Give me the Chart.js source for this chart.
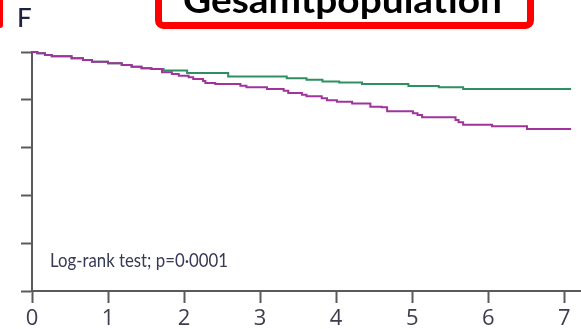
<!DOCTYPE html>
<html>
<head>
<meta charset="utf-8">
<script src="https://cdn.jsdelivr.net/npm/chart.js@4.4.1/dist/chart.umd.min.js"></script>
<style>
  html, body { margin: 0; padding: 0; background: #fff; }
</style>
</head>
<body>
<canvas id="myChart" width="581" height="329"></canvas>
<script>
// Axis ticks (years on x, % on y - y labels are cropped off in the source)
const yearTicks = [0, 1, 2, 3, 4, 5, 6, 7];
const survTicks = [0, 20, 40, 60, 80, 100];

// Green curve (time in years, survival %)
const greenTimes = [0, 0.07, 0.17, 0.26, 0.52, 0.67, 0.79, 1.0, 1.18, 1.31, 1.44, 1.57, 1.73, 2.04, 2.58, 3.35, 3.61, 3.82, 4.04, 4.34, 4.95, 5.35, 5.67, 7.09];
const greenSurv = [100, 99.5, 98.7, 98.2, 97.4, 96.7, 95.9, 95.3, 94.6, 93.8, 93.2, 92.9, 92.3, 91.2, 89.8, 89.0, 88.4, 87.7, 87.2, 86.6, 85.8, 85.2, 84.5, 84.5];

// Purple curve
const purpleTimes = [0, 0.07, 0.17, 0.26, 0.52, 0.67, 0.79, 1.0, 1.18, 1.31, 1.44, 1.57, 1.71, 1.84, 1.93, 2.06, 2.12, 2.25, 2.28, 2.41, 2.74, 2.82, 3.09, 3.31, 3.37, 3.55, 3.61, 3.81, 3.88, 4.01, 4.21, 4.45, 4.6, 4.67, 5.01, 5.07, 5.13, 5.57, 5.61, 5.67, 6.05, 6.51, 7.09];
const purpleSurv = [100, 99.5, 98.7, 98.2, 97.4, 96.7, 95.9, 95.3, 94.6, 93.8, 93.2, 92.9, 91.5, 90.8, 90.1, 89.4, 88.7, 87.9, 87.0, 86.6, 85.9, 85.2, 84.5, 83.8, 82.8, 82.1, 81.5, 80.6, 79.8, 79.2, 78.4, 77.1, 76.9, 75.2, 74.4, 73.6, 72.7, 71.5, 70.6, 69.6, 68.9, 67.8, 67.8];

const panelLetter = "F";
const boxTitle = "Gesamtpopulation";
const testLabel = "Log-rank test; p=0·0001";

const axisColor = "#5a5a5a";

const toPoints = (xs, ys) => xs.map((x, i) => ({ x: x, y: ys[i] }));

// Draws the panel letter, the red title box and the log-rank note
const decorations = {
  id: "decorations",
  afterDraw(chart) {
    const ctx = chart.ctx;
    ctx.save();

    // red bar at the left edge
    ctx.fillStyle = "#ff0000";
    ctx.beginPath();
    ctx.roundRect(-4, -6, 7, 34, 3);
    ctx.fill();

    ctx.fillStyle = "#1c2242";
    ctx.font = "500 26px Lato";
    ctx.textBaseline = "alphabetic";
    ctx.fillText(panelLetter, 17, 27);

    // red framed title, cut off at the top
    ctx.strokeStyle = "#ff0000";
    ctx.lineWidth = 7;
    ctx.beginPath();
    ctx.roundRect(158.5, -20, 372, 45.5, 5);
    ctx.stroke();

    ctx.fillStyle = "#000";
    ctx.font = "bold 36px Lato";
    let w = ctx.measureText(boxTitle).width;
    ctx.save();
    ctx.translate(183, 13);
    ctx.scale(319 / w, 1);
    ctx.fillText(boxTitle, 0, 0);
    ctx.restore();

    // log-rank note
    ctx.fillStyle = "#363a58";
    ctx.font = "20px Lato";
    w = ctx.measureText(testLabel).width;
    ctx.translate(50, 267);
    ctx.scale(178 / w, 1);
    ctx.fillText(testLabel, 0, 0);

    ctx.restore();
  }
};

const ctx = document.getElementById("myChart").getContext("2d");
const myChart = new Chart(ctx, {
  type: "line",
  data: {
    datasets: [
      {
        data: toPoints(purpleTimes, purpleSurv),
        borderColor: "#a0349a",
        borderWidth: 2,
        stepped: true,
        pointRadius: 0,
        clip: false,
      },
      {
        data: toPoints(greenTimes, greenSurv),
        borderColor: "#2e8f60",
        borderWidth: 2,
        stepped: true,
        pointRadius: 0,
        clip: false,
      },
    ],
  },
  options: {
    responsive: false,
    animation: false,
    devicePixelRatio: 1,
    layout: { padding: { top: 52, left: 0, right: 0, bottom: 0 } },
    plugins: { legend: { display: false }, tooltip: { enabled: false } },
    scales: {
      x: {
        type: "linear",
        min: 0,
        max: 7.22,
        afterBuildTicks: (scale) => {
          scale.ticks = yearTicks.map((v) => ({ value: v }));
        },
        afterFit: (scale) => {
          scale.height = 38;
        },
        grid: {
          drawOnChartArea: false,
          tickLength: 12,
          tickColor: axisColor,
          tickWidth: 2,
        },
        border: { color: axisColor, width: 2 },
        ticks: {
          padding: 3,
          maxRotation: 0,
          color: "#3d3d4d",
          font: { family: "Open Sans", size: 22 },
        },
      },
      y: {
        min: 0,
        max: 100,
        afterBuildTicks: (scale) => {
          scale.ticks = survTicks.map((v) => ({ value: v }));
        },
        afterFit: (scale) => {
          scale.width = 32;
        },
        grid: {
          drawOnChartArea: false,
          tickLength: 11,
          tickColor: axisColor,
          tickWidth: 2,
        },
        border: { color: axisColor, width: 2 },
        ticks: { display: false },
      },
    },
  },
  plugins: [decorations],
});
</script>
</body>
</html>
